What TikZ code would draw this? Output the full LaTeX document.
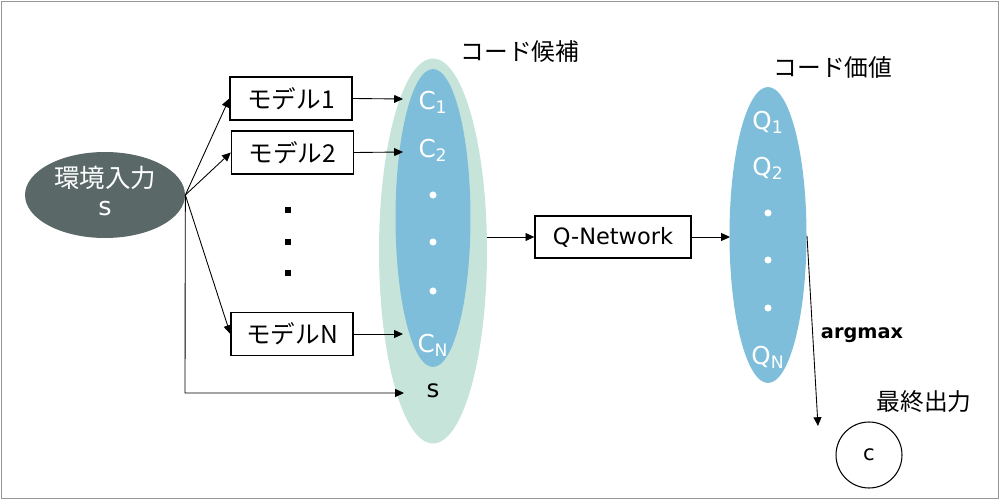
\documentclass[tikz,border=0pt]{standalone}
\usepackage{fontspec}
\setmainfont{DejaVu Sans}
\newfontfamily\jp{Noto Sans CJK JP}
\usetikzlibrary{arrows.meta,shapes.geometric}
\definecolor{envgray}{RGB}{90,104,104}
\definecolor{candgreen}{RGB}{198,228,218}
\definecolor{qblue}{RGB}{126,190,218}
\definecolor{framegray}{RGB}{150,150,150}
\tikzset{
  conn/.style={draw=black, line width=0.5pt, -{Triangle[length=5pt,width=4.5pt]}},
  plainline/.style={draw=black, line width=0.5pt},
  mbox/.style={draw=black, line width=0.8pt, fill=white, rectangle, inner sep=0pt, minimum width=2.44cm, minimum height=0.86cm, font=\jp\fontsize{14}{16}\selectfont},
  jlabel/.style={font=\jp\fontsize{13.5}{16}\selectfont, inner sep=0pt},
  wlabel/.style={text=white, font=\fontsize{14}{16}\selectfont, inner sep=0pt},
  wdot/.style={circle, fill=white, inner sep=0pt, minimum size=4pt},
  bdot/.style={rectangle, fill=black, inner sep=0pt, minimum size=3pt}
}
\begin{document}
\begin{tikzpicture}[x=0.02cm,y=-0.02cm]
\useasboundingbox (0,0) rectangle (1000,500);
\draw[framegray, line width=0.6pt] (1.5,1.5) rectangle (998.5,498.5);

% environment input
\node[ellipse, fill=envgray, minimum width=3.2cm, minimum height=1.72cm, inner sep=0pt] (env) at (105,195) {};
\node[text=white, font=\jp\fontsize{14.5}{16}\selectfont, inner sep=0pt] (envtxt) at (105,178) {環境入力};
\node[text=white, font=\fontsize{14.5}{16}\selectfont, inner sep=0pt] (envs) at (105,209) {s};

% models
\node[mbox] (m1) at (291,98.5) {モデル1};
\node[mbox] (m2) at (292.5,152.5) {モデル2};
\node[mbox] (mN) at (292,334) {モデルN};
\node[bdot] (d1) at (288,210) {};
\node[bdot] (d2) at (288,242) {};
\node[bdot] (d3) at (288,273) {};

% candidate ellipses
\node[ellipse, fill=candgreen, minimum width=2.16cm, minimum height=7.7cm, inner sep=0pt] (cand) at (433,251) {};
\node[ellipse, fill=qblue, minimum width=1.5cm, minimum height=5.96cm, inner sep=0pt] (cin) at (433,218) {};
\node[wlabel] (c1) at (433,102) {C\textsubscript{1}};
\node[wlabel] (c2) at (433,150) {C\textsubscript{2}};
\node[wdot] (cd1) at (433,195) {};
\node[wdot] (cd2) at (433,242) {};
\node[wdot] (cd3) at (433,291) {};
\node[wlabel] (cN) at (433,345) {C\textsubscript{N}};
\node[font=\fontsize{14}{16}\selectfont, inner sep=0pt] (cs) at (433,391) {s};
\node[jlabel] (candlbl) at (520,52) {コード候補};

% connectors into candidates
\coordinate (in1) at (403,99);
\coordinate (in2) at (403,152);
\coordinate (inN) at (403,334);
\coordinate (ins) at (404,393);
\coordinate (corner) at (185,393);
\draw[conn] (env.east) -- (m1.west);
\draw[conn] (env.east) -- (m2.west);
\draw[conn] (env.east) -- (mN.west);
\draw[conn] (m1.east) -- (in1);
\draw[conn] (m2.east) -- (in2);
\draw[conn] (mN.east) -- (inN);
\draw[conn] (env.east) -- (corner) -- (ins);

% Q-Network
\node[mbox, font=\fontsize{12.8}{15}\selectfont, minimum width=3.12cm, minimum height=0.84cm] (qnet) at (613,237) {Q-Network};
\coordinate (candout) at (487,237);
\draw[conn] (candout) -- (qnet.west);

% Q values
\node[ellipse, fill=qblue, minimum width=1.54cm, minimum height=5.92cm, inner sep=0pt] (qell) at (768,235) {};
\node[wlabel] (q1) at (768,122) {Q\textsubscript{1}};
\node[wlabel] (q2) at (768,168) {Q\textsubscript{2}};
\node[wdot] (qd1) at (768,213) {};
\node[wdot] (qd2) at (768,260) {};
\node[wdot] (qd3) at (768,308) {};
\node[wlabel] (qN) at (768,357) {Q\textsubscript{N}};
\node[jlabel] (qlbl) at (833,67) {コード価値};
\coordinate (qin) at (730,237);
\draw[conn] (qnet.east) -- (qin);

% argmax and output
\coordinate (qright) at (807,236);
\coordinate (argend) at (818,426);
\draw[conn] (qright) -- (argend);
\node[font=\bfseries\fontsize{11}{13}\selectfont, inner sep=0pt] (argmax) at (862,335) {argmax};
\node[jlabel] (outlbl) at (924,402) {最終出力};
\node[circle, draw=black, line width=0.6pt, minimum size=1.32cm, inner sep=0pt, font=\fontsize{12}{14}\selectfont] (out) at (869,455) {c};
\end{tikzpicture}
\end{document}
